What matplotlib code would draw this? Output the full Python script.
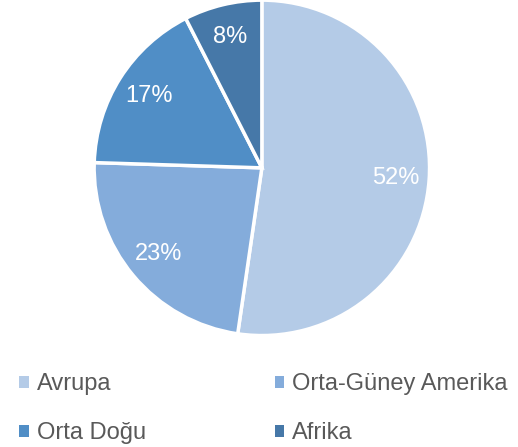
import matplotlib.pyplot as plt
from matplotlib.patches import Patch

plt.rcParams['font.family'] = ['Liberation Sans', 'DejaVu Sans']

regions = ['Avrupa', 'Orta-Güney Amerika', 'Orta Doğu', 'Afrika']
shares = [52.3, 23.2, 17.0, 7.5]
pct_labels = ['52%', '23%', '17%', '8%']
colors = ['#B4CBE7', '#84ACDB', '#508EC6', '#4678A8']

fig = plt.figure(figsize=(5.18, 4.47), dpi=100)
ax = fig.add_axes([0.185, 0.253, 0.641, 0.743])

wedges, texts = ax.pie(shares, colors=colors, startangle=90, counterclock=False,
                       labels=pct_labels, labeldistance=0.8,
                       wedgeprops=dict(edgecolor='white', linewidth=2.5))
for t in texts:
    t.set_color('white')
    t.set_fontsize(17)
    t.set_ha('center')
    t.set_va('center')
ax.set_xlim(-0.99, 0.99)
ax.set_ylim(-0.99, 0.99)
ax.set_aspect('equal')

order = [0, 2, 1, 3]
handles = [Patch(facecolor=colors[i], edgecolor='none') for i in order]
fig.legend(handles, [regions[i] for i in order], ncol=2, loc='lower left',
           bbox_to_anchor=(-0.004, -0.041), frameon=False, fontsize=17,
           handlelength=0.4, handleheight=0.4, handletextpad=0.35,
           columnspacing=5.45, labelspacing=1.13, labelcolor='#595959')

fig.savefig('out.png', dpi=100)
